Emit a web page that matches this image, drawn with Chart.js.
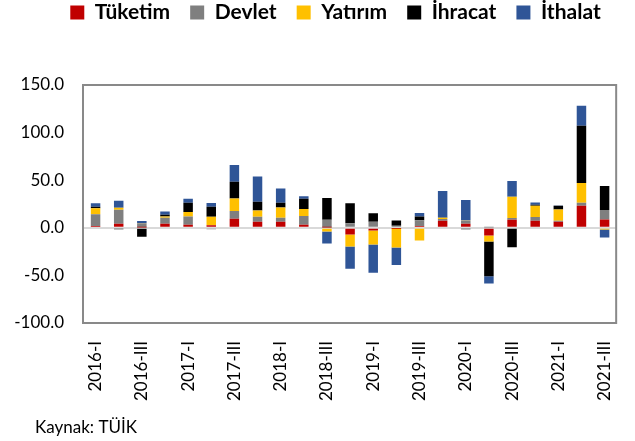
<!DOCTYPE html>
<html>
<head>
<meta charset="utf-8">
<script src="https://cdn.jsdelivr.net/npm/chart.js@4"></script>
<style>
  html, body { margin: 0; padding: 0; background: #fff; }
  #wrap { width: 635px; height: 441px; }
</style>
</head>
<body>
<div id="wrap"><canvas id="myChart" width="635" height="441"></canvas></div>
<script>
// Çeyrekler
var quarters = ['2016-I', '2016-II', '2016-III', '2016-IV',
  '2017-I', '2017-II', '2017-III', '2017-IV',
  '2018-I', '2018-II', '2018-III', '2018-IV',
  '2019-I', '2019-II', '2019-III', '2019-IV',
  '2020-I', '2020-II', '2020-III', '2020-IV',
  '2021-I', '2021-II', '2021-III'];

// Katkılar (puan)
var tuketim = [2.0, 4.2, 0.3, 4.2, 3.2, 2.8, 9.5, 6.3, 6.3, 3.2, 0.3, -7.0, -2.8, -0.3, 1.8, 7.4, 4.2, -8.1, 8.4, 7.4, 6.3, 23.1, 8.8];
var devlet = [12.3, 14.7, 4.5, 6.3, 8.8, -1.5, 8.1, 5.3, 4.2, 9.1, 8.1, 4.9, 6.3, 2.1, 6.0, 1.8, 3.5, 0.3, 1.8, 3.9, 1.0, 3.2, 9.8];
var yatirim = [6.3, 2.1, 0.3, 1.4, 4.6, 8.8, 13.3, 6.7, 10.9, 7.4, -3.9, -12.6, -14.7, -20.3, -13.3, 1.4, 0.2, -6.3, 22.4, 11.9, 11.9, 20.7, -1.8];
var ihracat = [1.4, -1.5, -9.5, 1.8, 9.8, 10.5, 17.5, 9.1, 4.9, 10.9, 22.8, 21.0, 9.1, 5.6, 4.2, 0.3, -1.4, -36.5, -20.3, 1.0, 3.9, 60.3, 25.2];
var ithalat = [3.9, 7.4, 2.0, 3.5, 4.2, 3.9, 17.5, 26.6, 15.1, 2.5, -12.6, -23.5, -29.8, -18.6, 3.5, 27.7, 21.4, -7.7, 16.5, 2.5, 0.3, 21.0, -8.4];

// Eksen
var yMin = -100;
var yMax = 150;
var yStep = 50;

var sourceNote = 'Kaynak: TÜİK';

var fontFamily = 'Lato, "Open Sans", sans-serif';

// Lejant yerleşimi, çerçeve ve kaynak notu
var layoutTweaks = {
  id: 'layoutTweaks',
  beforeInit: function(chart) {
    var fit = chart.legend.fit;
    chart.legend.fit = function() {
      fit.call(this);
      this.height = 85;
    };
  },
  afterLayout: function(chart) {
    var lg = chart.legend;
    lg.left += 17;
    lg.right += 17;
    lg.top -= 18;
  },
  afterDatasetsDraw: function(chart) {
    var a = chart.chartArea;
    var ctx = chart.ctx;
    ctx.save();
    ctx.strokeStyle = '#898989';
    ctx.lineWidth = 2;
    ctx.strokeRect(a.left - 1, a.top, a.right - a.left + 1, a.bottom - a.top);
    ctx.restore();
  },
  afterDraw: function(chart) {
    var ctx = chart.ctx;
    ctx.save();
    ctx.fillStyle = '#000';
    ctx.font = '17px ' + fontFamily;
    ctx.textBaseline = 'middle';
    ctx.fillText(sourceNote, 35, 428);
    ctx.restore();
  }
};

function makeSet(label, data, color) {
  return {
    label: label,
    data: data,
    backgroundColor: color,
    borderWidth: 0,
    barPercentage: 0.41,
    categoryPercentage: 1
  };
}

var ctx = document.getElementById('myChart').getContext('2d');

var chart = new Chart(ctx, {
  type: 'bar',
  data: {
    labels: quarters,
    datasets: [
      makeSet('Tüketim', tuketim, '#C00000'),
      makeSet('Devlet', devlet, '#7F7F7F'),
      makeSet('Yatırım', yatirim, '#FFC000'),
      makeSet('İhracat', ihracat, '#000000'),
      makeSet('İthalat', ithalat, '#2F5597')
    ]
  },
  plugins: [layoutTweaks],
  options: {
    responsive: false,
    animation: false,
    layout: { padding: { left: 0, right: -2, top: 0, bottom: 0 } },
    plugins: {
      tooltip: { enabled: false },
      legend: {
        position: 'top',
        labels: {
          boxWidth: 14,
          boxHeight: 14,
          padding: 20,
          color: '#000',
          font: { family: fontFamily, size: 21, weight: 'bold' }
        }
      }
    },
    scales: {
      x: {
        stacked: true,
        grid: { display: false },
        border: { display: false },
        afterFit: function(scale) { scale.height = 118; },
        ticks: {
          autoSkip: false,
          maxRotation: 90,
          minRotation: 90,
          padding: 10,
          color: '#000',
          font: { family: fontFamily, size: 17 },
          callback: function(value, index) {
            return index % 2 === 0 ? quarters[index] : '';
          }
        }
      },
      y: {
        stacked: true,
        min: yMin,
        max: yMax,
        z: 1,
        afterFit: function(scale) { scale.width = 84; },
        border: { display: false },
        grid: {
          drawTicks: false,
          lineWidth: 2,
          color: function(c) {
            return c.tick && c.tick.value === 0 ? '#D9D9D9' : 'rgba(0,0,0,0)';
          }
        },
        ticks: {
          stepSize: yStep,
          padding: 20,
          color: '#000',
          font: { family: fontFamily, size: 17 },
          callback: function(value) { return Number(value).toFixed(1); }
        }
      }
    }
  }
});
</script>
</body>
</html>
